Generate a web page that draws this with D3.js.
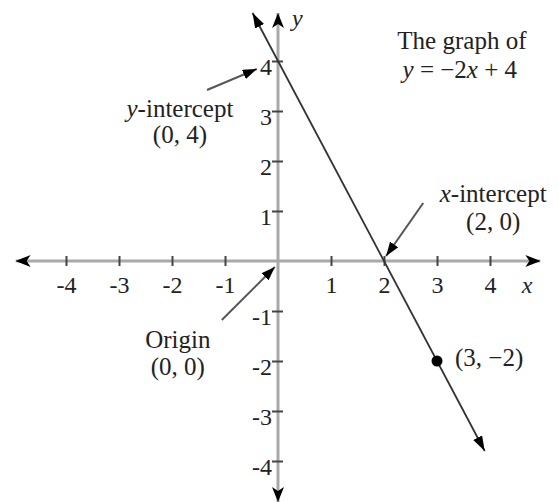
<!DOCTYPE html>
<html>
<head>
<meta charset="utf-8">
<script src="https://cdn.jsdelivr.net/npm/d3@7"></script>
<style>
  html, body { margin: 0; padding: 0; background: #fff; }
  svg { display: block; }
  text { font-family: "Liberation Serif", "Times New Roman", serif; fill: #222; }
</style>
</head>
<body>
<svg id="chart" width="558" height="502"></svg>
<script>
const xTicks = [-4, -3, -2, -1, 1, 2, 3, 4];
const yTicks = [-4, -3, -2, -1, 1, 2, 3, 4];
const slope = -2;
const intercept = 4;
const lineEnds = [-0.48, 3.9];          // x values where the drawn line stops
const markedPoints = [{ x: 3, y: -2, label: "(3, −2)" }];
const titleLines = ["The graph of"];
const notes = [
  { name: "y-int", lines: ["intercept", "(0, 4)"], italic: "y" },
  { name: "x-int", lines: ["intercept", "(2, 0)"], italic: "x" },
  { name: "origin", lines: ["Origin", "(0, 0)"] }
];

const width = 558, height = 502;
const svg = d3.select("#chart");

// one unit is ~53px across and 50px up, origin sits at (278, 261)
const x = d3.scaleLinear().domain([-5, 5]).range([13, 543]);
const y = d3.scaleLinear().domain([-5, 5]).range([511, 11]);

const defs = svg.append("defs");
function marker(id, path, w, h, orient) {
  defs.append("marker")
    .attr("id", id)
    .attr("viewBox", `0 ${-h / 2} ${w} ${h}`)
    .attr("refX", w).attr("refY", 0)
    .attr("markerUnits", "userSpaceOnUse")
    .attr("markerWidth", w).attr("markerHeight", h)
    .attr("orient", orient)
    .append("path").attr("d", path).attr("fill", "#000");
}
marker("axisEnd", "M0,-6L15,0L0,6L4,0Z", 15, 12, "auto");
marker("axisStart", "M0,-6L15,0L0,6L4,0Z", 15, 12, "auto-start-reverse");
marker("lineEnd", "M0,-5L15,0L0,5Z", 15, 10, "auto");
marker("lineStart", "M0,-5L15,0L0,5Z", 15, 10, "auto-start-reverse");
marker("noteEnd", "M0,-5L14,0L0,5Z", 14, 10, "auto");

// axes lines with arrows
svg.append("line")
  .attr("x1", x(-4.95)).attr("x2", x(4.95))
  .attr("y1", y(0)).attr("y2", y(0))
  .attr("stroke", "#a9a9a9").attr("stroke-width", 3)
  .attr("marker-start", "url(#axisStart)")
  .attr("marker-end", "url(#axisEnd)");

svg.append("line")
  .attr("x1", x(0)).attr("x2", x(0))
  .attr("y1", y(-4.82)).attr("y2", y(4.96))
  .attr("stroke", "#a9a9a9").attr("stroke-width", 3)
  .attr("marker-start", "url(#axisStart)")
  .attr("marker-end", "url(#axisEnd)");

// ticks + labels through d3 axes
const xAxis = svg.append("g")
  .attr("transform", `translate(0,${y(0)})`)
  .call(d3.axisBottom(x).tickValues(xTicks).tickSize(5).tickFormat(d => String(d)));
xAxis.select(".domain").remove();
xAxis.selectAll(".tick line").attr("y1", -5).attr("y2", 5)
  .attr("stroke", "#444").attr("stroke-width", 2);
xAxis.selectAll(".tick text")
  .attr("y", 32).attr("dy", null)
  .attr("font-size", 24).attr("fill", "#222")
  .style("font-family", "Liberation Serif");

const yAxis = svg.append("g")
  .attr("transform", `translate(${x(0)},0)`)
  .call(d3.axisLeft(y).tickValues(yTicks).tickSize(6).tickFormat(d => String(d)));
yAxis.select(".domain").remove();
yAxis.selectAll(".tick line").attr("x1", -6).attr("x2", 5)
  .attr("stroke", "#444").attr("stroke-width", 2);
yAxis.selectAll(".tick text")
  .attr("x", -6).attr("dy", "0.55em")
  .attr("font-size", 24).attr("fill", "#222")
  .style("font-family", "Liberation Serif");

// axis names
svg.append("text")
  .attr("x", x(0) + 14).attr("y", y(4.7))
  .attr("font-size", 24).attr("font-style", "italic")
  .text("y");
svg.append("text")
  .attr("x", x(4.6)).attr("y", y(0) + 32)
  .attr("font-size", 24).attr("font-style", "italic")
  .text("x");

// the line y = -2x + 4
const f = v => slope * v + intercept;
svg.append("line")
  .attr("x1", x(lineEnds[0])).attr("y1", y(f(lineEnds[0])))
  .attr("x2", x(lineEnds[1])).attr("y2", y(f(lineEnds[1])))
  .attr("stroke", "#333").attr("stroke-width", 1.8)
  .attr("marker-start", "url(#lineStart)")
  .attr("marker-end", "url(#lineEnd)");

// marked point
svg.selectAll("circle.pt")
  .data(markedPoints)
  .join("circle")
  .attr("class", "pt")
  .attr("cx", d => x(d.x)).attr("cy", d => y(d.y))
  .attr("r", 5.5).attr("fill", "#000");
svg.selectAll("text.pt")
  .data(markedPoints)
  .join("text")
  .attr("class", "pt")
  .attr("x", d => x(d.x + 0.34)).attr("y", d => y(d.y) + 5)
  .attr("font-size", 25)
  .text(d => d.label);

// title
const title = svg.append("text")
  .attr("text-anchor", "middle")
  .attr("font-size", 25);
title.append("tspan").attr("x", x(3.47)).attr("y", y(4.24)).text(titleLines[0]);
const eq = title.append("tspan").attr("x", x(3.43)).attr("y", y(3.66));
eq.append("tspan").attr("font-style", "italic").text("y");
eq.append("tspan").text(" = −2");
eq.append("tspan").attr("font-style", "italic").text("x");
eq.append("tspan").text(" + 4");

// annotations: [label centre x, first baseline, second baseline], arrow from / to
const notePos = {
  "y-int":  { cx: -1.85, b1: 2.88, b2: 2.36, from: [-1.34, 3.42], to: [-0.40, 3.84] },
  "x-int":  { cx: 4.06, b1: 1.18, b2: 0.62, from: [2.74, 1.16], to: [2.04, 0.10] },
  "origin": { cx: -1.89, b1: -1.74, b2: -2.28, from: [-1.06, -1.18], to: [-0.06, -0.12] }
};

notes.forEach(n => {
  const p = notePos[n.name];
  const t = svg.append("text").attr("text-anchor", "middle").attr("font-size", 25);
  const first = t.append("tspan").attr("x", x(p.cx)).attr("y", y(p.b1));
  if (n.italic) {
    first.append("tspan").attr("font-style", "italic").text(n.italic);
    first.append("tspan").text("-" + n.lines[0]);
  } else {
    first.text(n.lines[0]);
  }
  t.append("tspan").attr("x", x(p.cx)).attr("y", y(p.b2)).text(n.lines[1]);

  svg.append("line")
    .attr("x1", x(p.from[0])).attr("y1", y(p.from[1]))
    .attr("x2", x(p.to[0])).attr("y2", y(p.to[1]))
    .attr("stroke", "#555").attr("stroke-width", 2)
    .attr("marker-end", "url(#noteEnd)");
});
</script>
</body>
</html>
